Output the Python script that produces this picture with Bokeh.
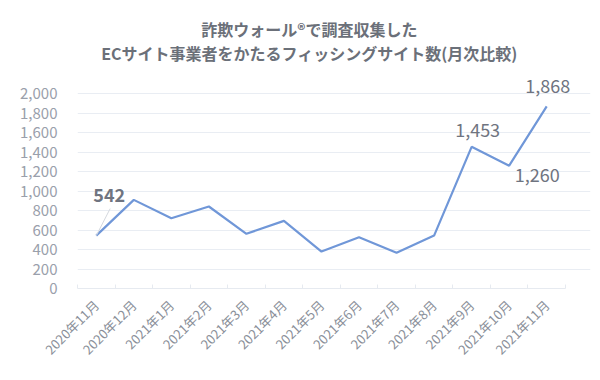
import math
from bokeh.plotting import figure
from bokeh.models import (ColumnDataSource, FixedTicker, NumeralTickFormatter,
                          Range1d, Label)
from bokeh.embed import file_html
from bokeh.resources import INLINE

months = ["2020年11月", "2020年12月", "2021年1月", "2021年2月", "2021年3月",
          "2021年4月", "2021年5月", "2021年6月", "2021年7月", "2021年8月",
          "2021年9月", "2021年10月", "2021年11月"]
counts = [542, 909, 721, 841, 561, 694, 379, 526, 366, 543, 1453, 1260, 1868]
y_ticks = [0, 200, 400, 600, 800, 1000, 1200, 1400, 1600, 1800, 2000]
title_lines = ["詐欺ウォール®で調査収集した",
               "ECサイト事業者をかたるフィッシングサイト数(月次比較)"]
# annotated points: index, pixel offsets, bold
label_idx = [0, 10, 11, 12]
label_dx = [13, 6, 28, 1]
label_dy = [41, 17, -9, 20]
label_bold = [True, False, False, False]

FONT = "Noto Sans CJK JP"
xs = list(range(len(months)))
n = len(months)

# frame extends beyond the axis area so that texts above/right are not clipped
p = figure(width=600, height=380, output_backend="svg", toolbar_location=None,
           x_range=Range1d(-0.5, n - 0.5 + 0.667), y_range=Range1d(0, 2913),
           min_border_left=77, min_border_right=10, min_border_top=4,
           min_border_bottom=92)
p.outline_line_color = None
p.background_fill_color = "white"
p.border_fill_color = "white"

src = ColumnDataSource(dict(x=xs, y=counts))
p.line("x", "y", source=src, line_color="#7097d8", line_width=2.2)

# leader line for first label
p.segment(x0=[xs[0]], y0=[counts[0]], x1=[xs[0] + 0.37], y1=[counts[0] + 277],
          line_color="#d5d9df", line_width=1)

for i, dx, dy, b in zip(label_idx, label_dx, label_dy, label_bold):
    p.add_layout(Label(x=xs[i], y=counts[i], text=f"{counts[i]:,}",
                       x_offset=dx, y_offset=dy, text_align="center",
                       text_baseline="middle", text_font=FONT,
                       text_font_size="18px",
                       text_font_style="bold" if b else "normal",
                       text_color="#6f7480"))

# title (placed in data space above the axis area)
title_y = [2660, 2415]
for k, t in enumerate(title_lines):
    p.add_layout(Label(x=5.68, y=title_y[k], text=t, text_align="center",
                       text_baseline="middle", text_font=FONT,
                       text_font_size="16px", text_font_style="bold",
                       text_color="#6b7079"))

# y axis
p.yaxis.ticker = FixedTicker(ticks=y_ticks)
p.yaxis.formatter = NumeralTickFormatter(format="0,0")
p.yaxis.bounds = (0, 2000)
p.yaxis.axis_line_color = None
p.yaxis.major_tick_line_color = None
p.yaxis.minor_tick_line_color = None
p.yaxis.major_label_text_font = FONT
p.yaxis.major_label_text_font_size = "15px"
p.yaxis.major_label_text_color = "#9aa0ab"
p.yaxis.major_label_standoff = 14

# x axis
p.xaxis.ticker = FixedTicker(ticks=xs,
                             minor_ticks=[i - 0.5 for i in range(n + 1)])
p.xaxis.bounds = (-0.5, n - 0.5)
p.xaxis.major_label_overrides = {i: m for i, m in enumerate(months)}
p.xaxis.major_label_orientation = math.pi / 4
p.xaxis.major_label_text_font = FONT
p.xaxis.major_label_text_font_size = "13px"
p.xaxis.major_label_text_color = "#8a8f99"
p.xaxis.axis_line_color = "#e6eaf0"
p.xaxis.major_tick_line_color = None
p.xaxis.minor_tick_line_color = "#e6eaf0"
p.xaxis.minor_tick_in = 4
p.xaxis.minor_tick_out = 0
p.xaxis.major_label_standoff = 8

p.xgrid.grid_line_color = None
p.ygrid.grid_line_color = "#e9edf3"
p.ygrid.ticker = FixedTicker(ticks=y_ticks)
p.ygrid.bounds = (-0.5, n - 0.5)

open("out.html", "w").write(file_html(p, INLINE))
